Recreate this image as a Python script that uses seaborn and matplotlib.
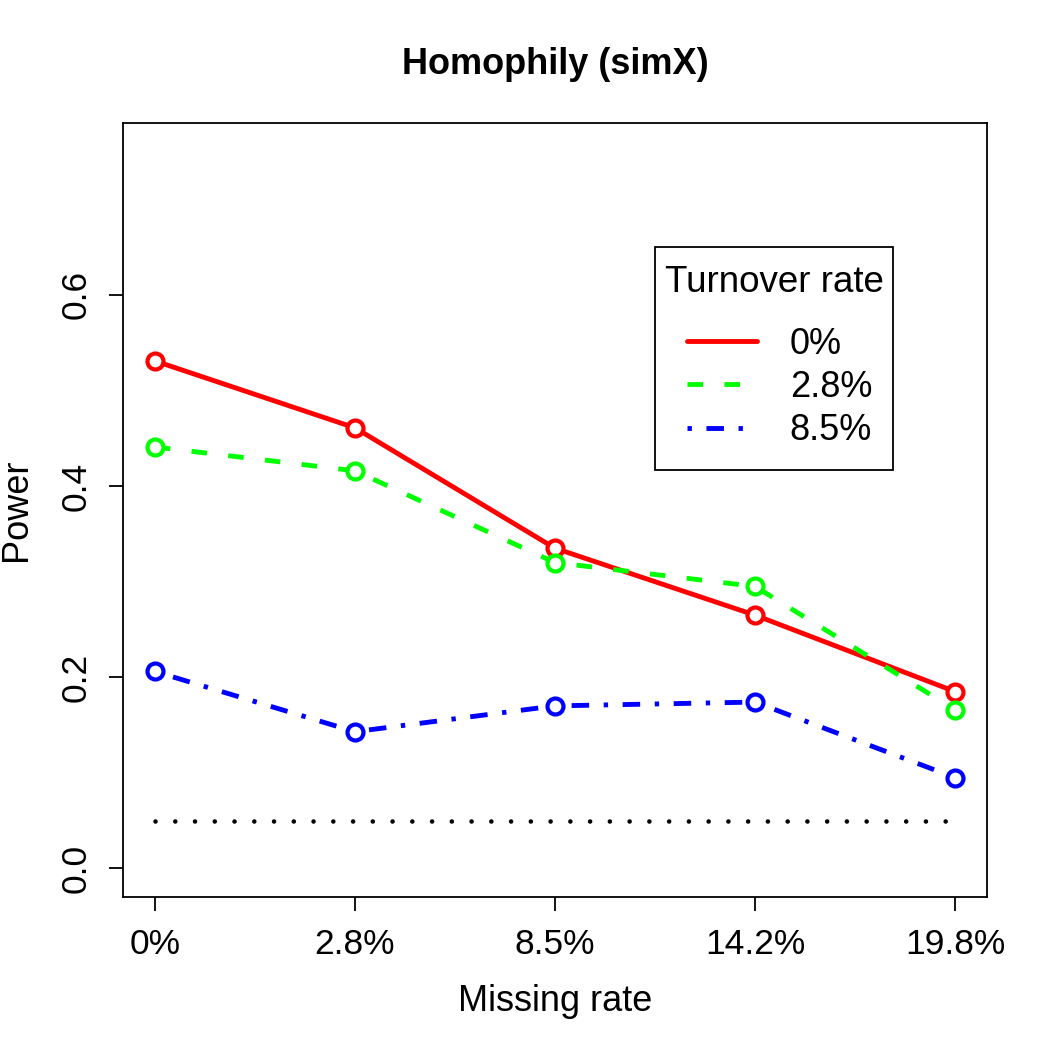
import matplotlib
matplotlib.use("Agg")
import matplotlib.pyplot as plt
from matplotlib.lines import Line2D
from matplotlib.offsetbox import DrawingArea, HPacker
import seaborn as sns
import pandas as pd

# data
missing_rate = ["0%", "2.8%", "8.5%", "14.2%", "19.8%"]
turnover = ["0%", "2.8%", "8.5%"]
power_0 = [0.531, 0.461, 0.335, 0.265, 0.185]
power_28 = [0.441, 0.416, 0.320, 0.295, 0.166]
power_85 = [0.206, 0.143, 0.170, 0.174, 0.095]
alpha_level = 0.05
y_ticks = [0.0, 0.2, 0.4, 0.6]

colors = ["#FF0000", "#00FF00", "#0000FF"]
styles = ["-", (0, (3.2, 4.4)), (0, (0.9, 3.0, 3.6, 3.0))]

sns.set_style("ticks")
plt.rcParams["font.family"] = ["Liberation Sans", "DejaVu Sans"]
plt.rcParams["text.color"] = "black"
plt.rcParams["axes.labelcolor"] = "black"
plt.rcParams["xtick.color"] = "black"
plt.rcParams["ytick.color"] = "black"

pos = list(range(len(missing_rate)))
df = pd.DataFrame({
    "pos": pos * 3,
    "power": power_0 + power_28 + power_85,
    "turnover": [t for t in turnover for _ in pos],
})

fig = plt.figure(figsize=(10.5, 10.5), dpi=100)
ax = fig.add_axes([0.117, 0.1457, 0.823, 0.7372])

for t, c, ls in zip(turnover, colors, styles):
    sub = df[df["turnover"] == t]
    sns.lineplot(data=sub, x="pos", y="power", ax=ax, color=c, linestyle=ls,
                 linewidth=3.5, marker="o", markersize=11.5, markerfacecolor="white",
                 markeredgecolor=c, markeredgewidth=3.0, legend=False)

# reference line at the nominal level
ax.plot([pos[0], pos[-1]], [alpha_level, alpha_level], color="black",
        linestyle=(0, (0.01, 4.3)), linewidth=3.3, dash_capstyle="round")

ax.set_xlim(-0.16, 4.16)
ax.set_ylim(-0.03, 0.78)
ax.set_xticks(pos)
ax.set_xticklabels(missing_rate)
ax.set_yticks(y_ticks)
ax.set_yticklabels([f"{v:.1f}" for v in y_ticks], rotation=90, va="center")
ax.tick_params(axis="both", labelsize=25.5, length=10, width=1.3, color="black",
               labelcolor="black")
ax.tick_params(axis="x", pad=12)
ax.tick_params(axis="y", pad=12)

for s in ax.spines.values():
    s.set_visible(True)
    s.set_color("black")
    s.set_linewidth(1.3)

ax.set_xlabel("Missing rate", fontsize=26, labelpad=17)
ax.set_ylabel("Power", fontsize=26, labelpad=18)
ax.set_title("Homophily (simX)", fontsize=26, fontweight="bold", pad=35)

handles = [Line2D([0], [0], color=c, linestyle=ls, linewidth=3.5)
           for c, ls in zip(colors, styles)]
leg = ax.legend(handles, turnover, title="Turnover rate", loc="upper left",
                bbox_to_anchor=(0.616, 0.840), fontsize=26, title_fontsize=26.5,
                frameon=True, fancybox=False, edgecolor="black", framealpha=1,
                handlelength=1.95, handletextpad=0.9, labelspacing=0.23,
                borderpad=0.26, borderaxespad=0, alignment="left")
leg.get_frame().set_linewidth(1.3)
# R-style legend layout: centered title, keys indented, more vertical room
box = leg._legend_box
title_box, handle_box = box._children
box.sep = 0
box._children = [DrawingArea(0, 6.5), title_box, DrawingArea(0, 19),
                 HPacker(pad=0, sep=0, children=[DrawingArea(16, 0), handle_box]),
                 DrawingArea(0, 9)]

fig.savefig("out.png", dpi=100)
